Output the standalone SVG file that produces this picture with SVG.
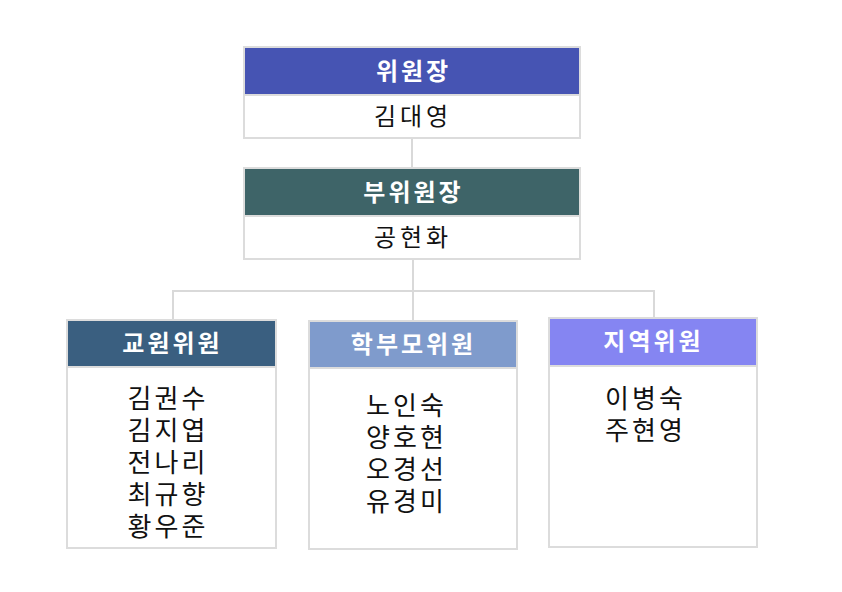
<svg xmlns="http://www.w3.org/2000/svg" width="842" height="592" viewBox="0 0 842 592">
<style>
.box{fill:#fff;stroke:#dcdcdc;stroke-width:2}
.hd{stroke:#dcdcdc;stroke-width:2}
.ht{font-family:"Liberation Sans","Noto Sans CJK KR",sans-serif;font-weight:bold;font-size:24px;letter-spacing:3px;fill:#fff;text-anchor:middle}
.nm{font-family:"Liberation Sans","Noto Sans CJK KR",sans-serif;font-size:24px;letter-spacing:4px;fill:#111;text-anchor:middle}
.ls{font-family:"Liberation Sans","Noto Sans CJK KR",sans-serif;font-size:26px;letter-spacing:3px;fill:#111;text-anchor:middle}
.ln{fill:none;stroke:#d9d9d9;stroke-width:2}
</style>
<rect width="842" height="592" fill="#fff"/>
<g id="connectors">
<line class="ln" x1="412" y1="138" x2="412" y2="168"/>
<line class="ln" x1="413" y1="259" x2="413" y2="321"/>
<polyline class="ln" points="173,320 173,291 654,291 654,318"/>
</g>
<g id="chair">
<rect class="box" x="244" y="47" width="336" height="91"/>
<rect class="hd" x="244" y="47" width="336" height="48" fill="#4654b3"/>
<text class="ht" x="413.5" y="80">위원장</text>
<text class="nm" x="413" y="125">김대영</text>
</g>
<g id="vice">
<rect class="box" x="244" y="168" width="336" height="91"/>
<rect class="hd" x="244" y="168" width="336" height="48" fill="#3e6468"/>
<text class="ht" x="413.5" y="201">부위원장</text>
<text class="nm" x="413" y="246">공현화</text>
</g>
<g id="teachers">
<rect class="box" x="67" y="320" width="209" height="228"/>
<rect class="hd" x="67" y="320" width="209" height="47" fill="#3a5f80"/>
<text class="ht" x="172.5" y="352">교원위원</text>
<text class="ls" y="408"><tspan x="168">김권수</tspan><tspan x="168" dy="32">김지엽</tspan><tspan x="168" dy="32">전나리</tspan><tspan x="168" dy="32">최규향</tspan><tspan x="168" dy="32">황우준</tspan></text>
</g>
<g id="parents">
<rect class="box" x="309" y="321" width="208" height="228"/>
<rect class="hd" x="309" y="321" width="208" height="47" fill="#7f9bcc"/>
<text class="ht" x="413.5" y="353">학부모위원</text>
<text class="ls" y="415"><tspan x="406.5">노인숙</tspan><tspan x="406.5" dy="32">양호현</tspan><tspan x="406.5" dy="32">오경선</tspan><tspan x="406.5" dy="32">유경미</tspan></text>
</g>
<g id="community">
<rect class="box" x="549" y="318" width="208" height="229"/>
<rect class="hd" x="549" y="318" width="208" height="48" fill="#8585f2"/>
<text class="ht" x="653.5" y="350">지역위원</text>
<text class="ls" y="408"><tspan x="645.5">이병숙</tspan><tspan x="645.5" dy="32">주현영</tspan></text>
</g>
</svg>
